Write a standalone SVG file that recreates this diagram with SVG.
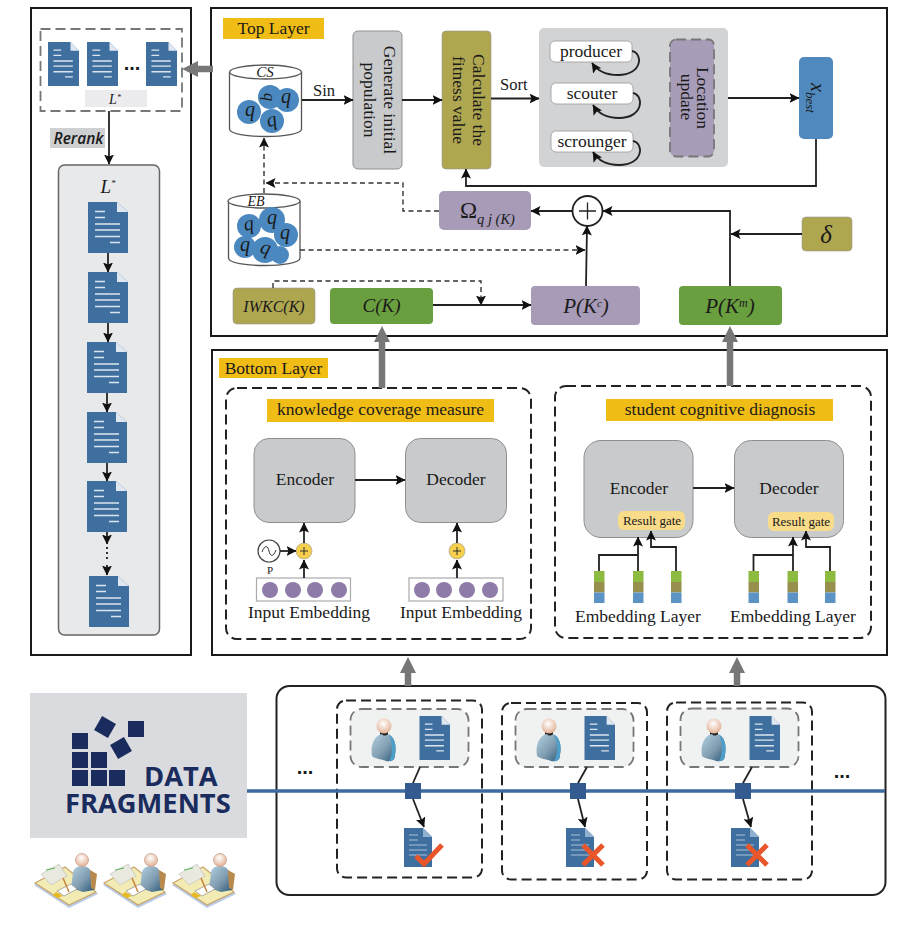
<svg xmlns="http://www.w3.org/2000/svg" xmlns:xlink="http://www.w3.org/1999/xlink" width="921" height="926" viewBox="0 0 921 926">
<style>
text{font-family:"Liberation Serif","Times New Roman",serif;fill:#1a1a1a;font-size:17.500px}
.m{text-anchor:middle}
.i{font-style:italic}
.panel{fill:#fff;stroke:#1a1a1a;stroke-width:2}
.tag{fill:#f0bd16}
.dash{fill:none;stroke:#222;stroke-width:2;stroke-dasharray:10 5}
.gdash{stroke:#777;stroke-width:1.800;stroke-dasharray:10 5}
.ln{fill:none;stroke:#222;stroke-width:1.800}
.dl{fill:none;stroke:#333;stroke-width:1.400;stroke-dasharray:5 3.500}
.ar{marker-end:url(#a)}
.big{fill:none;stroke:#777;stroke-width:6.500;marker-end:url(#b)}
.gray{fill:#c9cacc;stroke:#8e8f91;stroke-width:1}
.olive{fill:#afa650;stroke:#999;stroke-width:.6}
.green{fill:#6a9f3f}
.purple{fill:#a79bb8}
.q{fill:#4a88bf}
.qt{font-size:20px;font-style:italic;text-anchor:middle}
.pc{fill:#8f7ba8}
.sw{fill:#f6cf4d;stroke:#999;stroke-width:.6}
.w{fill:#fff;stroke:#999;stroke-width:.8}
.rg{fill:#f8dc8a}
.sq{fill:#1a2c5e}
.lo{fill:#345b8f}
.x{stroke:#e8562a;stroke-width:5;fill:none}
</style>
<defs>
<marker id="a" viewBox="0 0 10 10" refX="9.500" refY="5" markerWidth="10" markerHeight="10" markerUnits="userSpaceOnUse" orient="auto"><path d="M0,0L10,5L0,10L2,5z" fill="#111"/></marker>
<marker id="b" viewBox="0 0 10 10" refX="5" refY="5" markerWidth="16" markerHeight="16" markerUnits="userSpaceOnUse" orient="auto"><path d="M0,0L10,5L0,10z" fill="#777"/></marker>
<radialGradient id="hd" cx=".45" cy=".35" r=".7"><stop offset="0" stop-color="#fff"/><stop offset="1" stop-color="#e0aa8c"/></radialGradient>
<linearGradient id="bd" x1="0" y1="0" x2="1" y2="1"><stop offset="0" stop-color="#b4d2e2"/><stop offset=".55" stop-color="#7f9cb0"/><stop offset="1" stop-color="#2a5876"/></linearGradient>
<symbol id="doc" viewBox="0 0 40 51" preserveAspectRatio="none" overflow="visible">
<path d="M0,0H29L40,10V51H0z" fill="#3f6f9f"/><path d="M29,0L40,10H29z" fill="#dfe7f1"/>
<path d="M7,9.500H17M7,15.500H17M7,22H32M7,28H32M7,34.500H32M22,40.500H32" stroke="#dbe5ef" stroke-width="1.500" fill="none"/>
</symbol>
<symbol id="rdoc" viewBox="0 0 28 39" overflow="visible">
<path d="M0,0H19L28,9V39H0z" fill="#3f6f9f"/><path d="M19,0L28,9H19z" fill="#8fb0cf"/>
<path d="M5,7H14M5,12H14M5,17H23M5,22H23M5,27H23" stroke="#a9c2da" stroke-width="1.200" fill="none"/>
</symbol>
<symbol id="person" viewBox="0 0 26 44" overflow="visible">
<path d="M9,14H17V18H9z" fill="#222"/>
<path d="M1,38C-1,26 4,17 11,16C12,18 15,18 17,16C23,18 26,26 24,37C24,43 19,44 15,43C10,41 4,41 1,38z" fill="url(#bd)"/>
<path d="M18,17C23,19 26,27 24,37C24,42 21,43 18,43C22,36 22,26 18,17z" fill="#4d9fc9"/>
<circle cx="13" cy="8" r="7.500" fill="url(#hd)"/>
</symbol>
<symbol id="worker" viewBox="0 0 66 58" overflow="visible">
<path d="M1,35L33,18L65,44L36,58z" fill="#b9cbe8"/>
<path d="M2,33L32,17L63,42L36,55z" fill="#f2ecb4" stroke="#c9a56a" stroke-width="1.200"/>
<path d="M8,24L26,14L34,26L18,35z" fill="#e9e9e0" stroke="#bbb" stroke-width=".6"/>
<path d="M13,20L22,18" stroke="#5cb85c" stroke-width="1.200"/>
<path d="M38,38L40,22C42,14 56,14 58,22L61,40L50,42z" fill="url(#bd)"/>
<path d="M57,20L64,24L62,40L58,38z" fill="#b98a4e"/>
<circle cx="49" cy="10" r="6.500" fill="url(#hd)" stroke="#c9a08a" stroke-width=".8"/>
<path d="M24,41L38,34L44,39L31,46z" fill="#fff" stroke="#777" stroke-width=".6"/>
<path d="M23,42L30,46L24,48L20,45z" fill="#e8b820"/>
<path d="M30,28L36,42" stroke="#c9803a" stroke-width="1.500"/>
</symbol>
</defs>

<g id="left-panel">
<rect class="panel" x="31" y="8" width="160" height="647"/>
<rect x="40.500" y="29" width="141.500" height="82" fill="#fff" class="gdash"/>
<use xlink:href="#doc" href="#doc" x="48" y="42" width="31" height="44"/>
<use xlink:href="#doc" href="#doc" x="87" y="42" width="31" height="44"/>
<use xlink:href="#doc" href="#doc" x="146" y="42" width="31" height="44"/>
<text x="132" y="70" class="m" style="font-size:20px;font-weight:700;font-family:'Liberation Sans',sans-serif">...</text>
<rect x="85" y="90" width="62" height="17" fill="#ececee"/>
<text x="115" y="104" class="i m" style="font-size:14px">L<tspan dy="-4" font-size="8">*</tspan></text>
</g>
<g id="rerank">
<rect x="50" y="128" width="55" height="20" fill="#cfd0d2"/>
<text x="78.500" y="144" class="m i" style="font-family:'Open Sans','Liberation Sans',sans-serif;font-size:15.500px;font-weight:600">Rerank</text>
</g>
<g id="ranked-list">
<rect x="58.500" y="165" width="101" height="470" rx="6" fill="#e8e9ea" stroke="#666" stroke-width="1.500"/>
<text x="108" y="193" class="m i" style="font-size:19px">L<tspan dy="-7" font-size="9">*</tspan></text>
<use xlink:href="#doc" href="#doc" x="88" y="202" width="40" height="51"/>
<use xlink:href="#doc" href="#doc" x="88" y="272" width="40" height="51"/>
<use xlink:href="#doc" href="#doc" x="87" y="342" width="40" height="51"/>
<use xlink:href="#doc" href="#doc" x="87" y="412" width="40" height="51"/>
<use xlink:href="#doc" href="#doc" x="87" y="481" width="40" height="51"/>
<use xlink:href="#doc" href="#doc" x="89" y="576" width="40" height="51"/>
</g>

<g id="top-layer">
<rect class="panel" x="211" y="8" width="676" height="328"/>
<rect class="tag" x="223" y="18" width="101" height="21"/>
<text x="273.500" y="34" class="m">Top Layer</text>
</g>
<g id="cs">
<path d="M229.500,72V129C229.500,139 301.500,139 301.500,129V72" fill="#fff" stroke="#555" stroke-width="1.300"/>
<ellipse cx="265.500" cy="72" rx="36" ry="7" fill="#fff" stroke="#555" stroke-width="1.300"/>
<text x="265" y="77" class="m i" style="font-size:15px">CS</text>
<circle class="q" cx="270" cy="97" r="12"/><circle class="q" cx="249" cy="112" r="12"/><circle class="q" cx="287" cy="100" r="12"/><circle class="q" cx="272" cy="121" r="12"/>
<text class="qt" x="250" y="116">q</text><text class="qt" x="286" y="103">q</text>
<text class="qt" transform="rotate(-15 272 122)" x="272" y="126">q</text>
<text class="qt" transform="rotate(90 268 97)" x="268" y="101" style="font-size:16px">q</text>
</g>
<g id="eb">
<path d="M228.500,201V258C228.500,268 300,268 300,258V201" fill="#fff" stroke="#555" stroke-width="1.300"/>
<ellipse cx="264" cy="201" rx="36" ry="7" fill="#fff" stroke="#555" stroke-width="1.300"/>
<text x="256" y="206" class="m i" style="font-size:14px">EB</text>
<circle class="q" cx="280" cy="255" r="9"/><circle class="q" cx="249" cy="226" r="12"/><circle class="q" cx="286" cy="235" r="12"/><circle class="q" cx="272" cy="220" r="13"/><circle class="q" cx="245" cy="247" r="11"/><circle class="q" cx="265" cy="250" r="13"/>
<text class="qt" x="249" y="230" transform="rotate(-10 249 226)">q</text><text class="qt" x="272" y="224">q</text><text class="qt" x="285" y="239">q</text><text class="qt" x="245" y="251">q</text><text class="qt" x="265" y="254" transform="rotate(15 265 250)">q</text>
</g>
<g id="iwkc"><rect class="olive" x="233" y="288" width="82" height="36" rx="4"/><text x="274" y="312" class="m i" style="font-size:16px">IWKC(K)</text></g>
<g id="ck"><rect class="green" x="330" y="288" width="103" height="36" rx="4"/><text x="381.500" y="312" class="m i" style="font-size:19px">C(K)</text></g>
<g id="pkc"><rect class="purple" x="531" y="286" width="109" height="39" rx="4"/><text x="586" y="313" class="m i" style="font-size:21px">P(K<tspan dy="-6" font-size="11">c</tspan><tspan dy="6">)</tspan></text></g>
<g id="pkm"><rect class="green" x="679" y="286" width="103" height="39" rx="4"/><text x="730" y="313" class="m i" style="font-size:21px">P(K<tspan dy="-6" font-size="12">m</tspan><tspan dy="6">)</tspan></text></g>
<g id="generate"><rect class="gray" x="353" y="31" width="49" height="138" rx="5"/>
<text transform="translate(384,100) rotate(90)" class="m">Generate initial</text>
<text transform="translate(364,100) rotate(90)" class="m">population</text></g>
<g id="fitness"><rect class="olive" x="442" y="31" width="49" height="138" rx="4"/>
<text transform="translate(473,100) rotate(90)" class="m">Calculate the</text>
<text transform="translate(453,100) rotate(90)" class="m">fitness value</text></g>
<g id="search"><rect x="539" y="28" width="189" height="139" rx="5" fill="#d2d3d5"/>
<rect class="w" x="550" y="41" width="82" height="21" rx="5"/><text x="591" y="57" class="m">producer</text>
<rect class="w" x="551" y="83" width="82" height="21" rx="5"/><text x="592" y="99" class="m">scouter</text>
<rect class="w" x="551" y="131" width="82" height="21" rx="5"/><text x="592" y="147" class="m">scrounger</text>
<rect x="670" y="39.500" width="44" height="117" rx="6" fill="#a89db9" class="gdash"/>
<text transform="translate(697,98) rotate(90)" class="m">Location</text>
<text transform="translate(681,97) rotate(90)" class="m">update</text></g>
<g id="xbest"><rect x="799" y="57" width="34" height="82" rx="5" fill="#5089bd"/>
<text transform="translate(811,98) rotate(90)" class="m i" style="font-size:20px">x<tspan dy="5" font-size="13">best</tspan></text></g>
<g id="omega"><rect class="purple" x="439" y="191" width="92" height="39" rx="5"/>
<text x="460" y="218" style="font-size:23px">Ω<tspan dy="6" font-size="14.500" class="i">q j (K)</tspan></text></g>
<g id="plus"><circle cx="587.500" cy="211" r="15" fill="#fff" stroke="#222" stroke-width="1.800"/><path d="M579,211H596M587.500,202.500V219.500" stroke="#222" stroke-width="1.300"/></g>
<g id="delta"><rect class="olive" x="802" y="217" width="50" height="34" rx="4"/><text x="826" y="243" class="m i" style="font-size:25px">δ</text></g>

<g id="bottom-layer">
<rect class="panel" x="212" y="350" width="675" height="305"/>
<rect class="tag" x="219" y="358" width="109" height="20"/>
<text x="273.500" y="374" class="m">Bottom Layer</text>
</g>
<g id="kcm">
<rect class="dash" x="226" y="388" width="305" height="251" rx="11"/>
<rect class="tag" x="267" y="399" width="227" height="23"/>
<text x="380.500" y="415" class="m">knowledge coverage measure</text>
<rect class="gray" x="254" y="438.500" width="101" height="84" rx="15"/><text x="305" y="485" class="m">Encoder</text>
<rect class="gray" x="405.500" y="438.500" width="101" height="84" rx="15"/><text x="456" y="485" class="m">Decoder</text>
<circle cx="269" cy="551" r="11" fill="#fff" stroke="#444" stroke-width="1.200"/>
<path d="M262,552C265,544 268,546 269,551C270,556 273,558 276,550" fill="none" stroke="#333" stroke-width="1"/>
<text x="270" y="574" class="m" style="font-size:11px">P</text>
<circle class="sw" cx="304" cy="551" r="8"/><path d="M300,551H308M304,547V555" stroke="#333"/>
<circle class="sw" cx="457" cy="551" r="8"/><path d="M453,551H461M457,547V555" stroke="#333"/>
<rect x="256.500" y="578" width="94" height="23" fill="#fff" stroke="#aaa" stroke-width="1.200"/>
<rect x="409" y="578" width="94" height="23" fill="#fff" stroke="#aaa" stroke-width="1.200"/>
<circle class="pc" cx="270" cy="590" r="8"/><circle class="pc" cx="293" cy="590" r="8"/><circle class="pc" cx="315" cy="590" r="8"/><circle class="pc" cx="339" cy="590" r="8"/>
<circle class="pc" cx="422" cy="590" r="8"/><circle class="pc" cx="444" cy="590" r="8"/><circle class="pc" cx="467" cy="590" r="8"/><circle class="pc" cx="490" cy="590" r="8"/>
<text x="309" y="618" class="m">Input Embedding</text><text x="461" y="618" class="m">Input Embedding</text>
</g>
<g id="scd">
<rect class="dash" x="555" y="386" width="316" height="252" rx="11"/>
<rect class="tag" x="606" y="399" width="227" height="22"/>
<text x="720" y="415" class="m">student cognitive diagnosis</text>
<rect class="gray" x="584" y="440.500" width="109" height="97" rx="17"/><text x="639" y="494" class="m">Encoder</text>
<rect class="gray" x="734.500" y="440.500" width="109" height="97" rx="17"/><text x="789" y="494" class="m">Decoder</text>
<rect class="rg" x="618" y="511" width="67" height="19" rx="6"/><text x="652" y="525" class="m" style="font-size:13px">Result gate</text>
<rect class="rg" x="768" y="512" width="66" height="19" rx="6"/><text x="801" y="526" class="m" style="font-size:13px">Result gate</text>
<g id="stacks">
<path d="M594,571h10.500v11h-10.500zM633,571h10.500v11h-10.500zM671,571h10.500v11h-10.500zM748.500,571h10.500v11h-10.500zM787.500,571h10.500v11h-10.500zM825,571h10.500v11h-10.500z" fill="#8dbb41"/>
<path d="M594,582h10.500v10.500h-10.500zM633,582h10.500v10.500h-10.500zM671,582h10.500v10.500h-10.500zM748.500,582h10.500v10.500h-10.500zM787.500,582h10.500v10.500h-10.500zM825,582h10.500v10.500h-10.500z" fill="#968f4e"/>
<path d="M594,592.500h10.500v10.500h-10.500zM633,592.500h10.500v10.500h-10.500zM671,592.500h10.500v10.500h-10.500zM748.500,592.500h10.500v10.500h-10.500zM787.500,592.500h10.500v10.500h-10.500zM825,592.500h10.500v10.500h-10.500z" fill="#5a93c4"/>
</g>
<text x="638" y="622" class="m">Embedding Layer</text><text x="793" y="622" class="m">Embedding Layer</text>
</g>

<g id="data-fragments">
<rect x="30" y="693" width="217" height="145" fill="#d9dbde"/>
<rect class="sq" x="72" y="733" width="16" height="16"/><rect class="sq" x="72" y="752" width="16" height="16"/><rect class="sq" x="91" y="752" width="16" height="16"/>
<rect class="sq" x="72" y="770" width="16" height="16"/><rect class="sq" x="91" y="770" width="16" height="16"/><rect class="sq" x="109" y="770" width="16" height="16"/>
<rect class="sq" x="128" y="721" width="16" height="16"/>
<rect class="sq" x="97" y="719" width="16" height="16" transform="rotate(30 105 727)"/>
<rect class="sq" x="113" y="740" width="16" height="16" transform="rotate(-30 121 748)"/>
<text x="144" y="786" style="font-family:'Open Sans','Liberation Sans',sans-serif;font-weight:700;font-size:27.300px;fill:#1a2c5e">DATA</text>
<text x="65" y="813" style="font-family:'Open Sans','Liberation Sans',sans-serif;font-weight:700;font-size:27.300px;fill:#1a2c5e">FRAGMENTS</text>
</g>
<g id="workers">
<use xlink:href="#worker" href="#worker" x="33" y="850" width="66" height="58"/>
<use xlink:href="#worker" href="#worker" x="102" y="850" width="66" height="58"/>
<use xlink:href="#worker" href="#worker" x="171" y="850" width="66" height="58"/>
</g>
<g id="fragments-panel">
<rect x="276.500" y="686" width="609" height="209" rx="13" fill="#fff" stroke="#222" stroke-width="2"/>
<rect class="dash" x="337" y="700.500" width="145" height="177" rx="9"/>
<rect class="dash" x="502" y="703" width="145" height="176.500" rx="9"/>
<rect class="dash" x="667" y="702.500" width="145" height="177" rx="9"/>
<text x="305" y="774" class="m" style="font-family:'Liberation Sans',sans-serif;font-weight:700;font-size:20px">...</text>
<text x="842" y="778" class="m" style="font-family:'Liberation Sans',sans-serif;font-weight:700;font-size:20px">...</text>
</g>
<g id="chain"><path d="M247,791H885" stroke="#3d6a9f" stroke-width="3.500" fill="none"/></g>
<g id="fragment-1">
<rect x="350.500" y="709" width="118" height="58" rx="11" fill="#f0f1f1" class="gdash"/>
<use xlink:href="#person" href="#person" x="371" y="718" width="26" height="44"/>
<use xlink:href="#doc" href="#doc" x="419.500" y="716" width="30.500" height="44"/>
<rect class="lo" x="405" y="783" width="16" height="16"/>
<use xlink:href="#rdoc" href="#rdoc" x="404" y="828" width="28" height="39"/>
<path class="x" d="M416,856L424,864L442,845"/>
</g>
<g id="fragment-2">
<rect x="515.500" y="709" width="118" height="58" rx="11" fill="#f0f1f1" class="gdash"/>
<use xlink:href="#person" href="#person" x="536" y="718" width="26" height="44"/>
<use xlink:href="#doc" href="#doc" x="584.500" y="716" width="30.500" height="44"/>
<rect class="lo" x="570" y="783" width="16" height="16"/>
<use xlink:href="#rdoc" href="#rdoc" x="566" y="828" width="28" height="39"/>
<path class="x" d="M583,845L603,865M603,845L583,865"/>
</g>
<g id="fragment-3">
<rect x="680.500" y="708.500" width="118" height="58.500" rx="11" fill="#f0f1f1" class="gdash"/>
<use xlink:href="#person" href="#person" x="701" y="718" width="26" height="44"/>
<use xlink:href="#doc" href="#doc" x="749.500" y="716" width="30.500" height="44"/>
<rect class="lo" x="735" y="783" width="16" height="16"/>
<use xlink:href="#rdoc" href="#rdoc" x="731" y="828" width="28" height="39"/>
<path class="x" d="M747,845L767,865M767,845L747,865"/>
</g>

<g id="connectors">
<path class="big" d="M213,69H190"/>
<path class="big" d="M382,388V334"/>
<path class="big" d="M730,386V334"/>
<path class="big" d="M408,686V665"/>
<path class="big" d="M737,686V665"/>
<path class="ln ar" d="M109,111V164"/>
<path class="ln ar" d="M108,253V272"/><path class="ln ar" d="M108,323V342"/><path class="ln ar" d="M107,393V412"/><path class="ln ar" d="M107,463V481"/>
<path class="ln ar" d="M107,532V544"/><path class="ln" d="M107,547V559" stroke-dasharray="2 3"/><path class="ln ar" d="M107,565V575"/>
<path class="ln ar" d="M302,100H353"/><text x="313" y="96" style="font-size:16.500px">Sin</text>
<path class="ln ar" d="M402,100H442"/>
<path class="ln ar" d="M491,98.500H539"/><text x="500" y="90" style="font-size:16.500px">Sort</text>
<path class="ln ar" d="M728,98H799"/>
<path class="ln ar" d="M816,139V186H466V169"/>
<path class="ln ar" d="M572,211H531"/>
<path class="ln ar" d="M730,286V211H603"/>
<path class="ln ar" d="M802,234H731"/>
<path class="ln ar" d="M586,286L587,226"/>
<path class="ln ar" d="M433,305H531"/>
<path class="dl ar" d="M300,250H585"/>
<path class="dl ar" d="M439,211H403V183H266"/>
<path class="dl ar" d="M264,193V138"/>
<path class="dl ar" d="M273,288V281H481V305"/>
<path class="ln ar" d="M632,51C643,53 643,75 618,75C608,75 598,72 592,63"/>
<path class="ln ar" d="M633,93C644,95 644,118 619,118C609,118 599,115 593,105"/>
<path class="ln ar" d="M633,141C644,143 644,165 619,165C609,165 599,162 593,152"/>
<path class="ln ar" d="M355,480H405"/>
<path class="ln ar" d="M304,578V560"/><path class="ln ar" d="M304,543V523"/><path class="ln ar" d="M280,551H296"/>
<path class="ln ar" d="M457,578V560"/><path class="ln ar" d="M457,543V523"/>
<path class="ln ar" d="M693,488H734"/>
<path class="ln" d="M599,571V555H638"/><path class="ln ar" d="M638,571V537"/><path class="ln ar" d="M676,571V547H651V531"/>
<path class="ln" d="M753.500,571V555H793"/><path class="ln ar" d="M793,571V537"/><path class="ln ar" d="M830,571V547H806V531"/>
<path class="ln" d="M420,767L413,783"/><path class="ln ar" d="M413,799L424,827"/>
<path class="ln" d="M587,767L578,783"/><path class="ln ar" d="M578,799L585,827"/>
<path class="ln" d="M752,767L743,783"/><path class="ln ar" d="M743,799L751,827"/>
</g>
</svg>
